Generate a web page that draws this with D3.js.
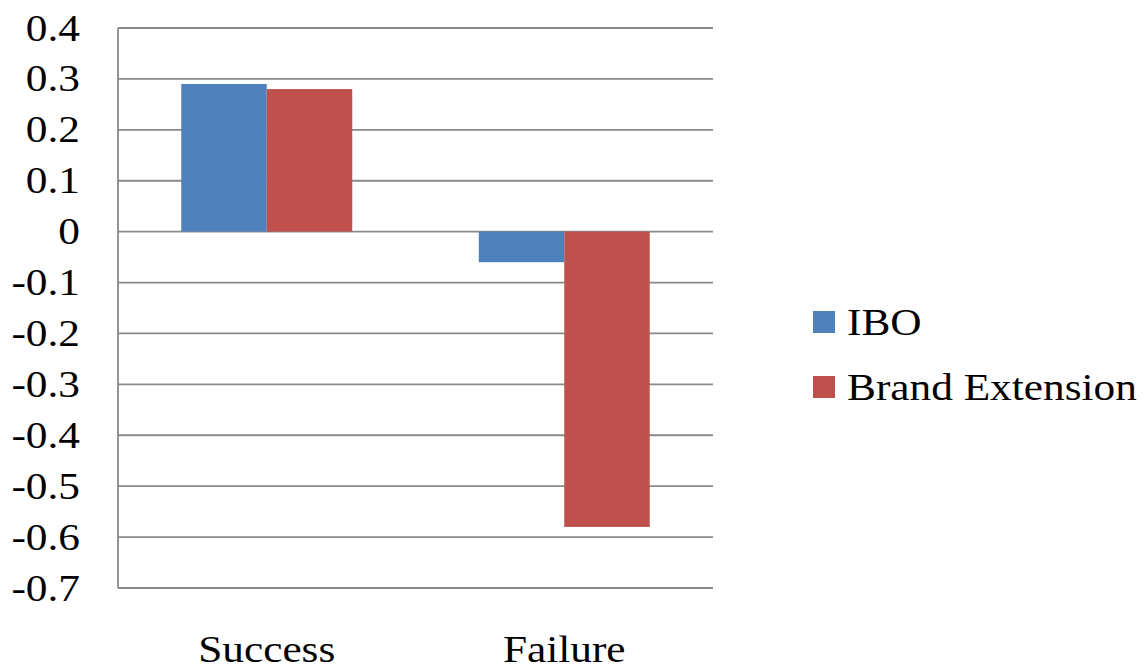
<!DOCTYPE html>
<html>
<head>
<meta charset="utf-8">
<script src="https://cdn.jsdelivr.net/npm/d3@7"></script>
<style>
  html, body { margin: 0; padding: 0; background: #ffffff; }
  svg { display: block; }
  text { font-family: "Liberation Serif", "Times New Roman", serif; fill: #000; }
</style>
</head>
<body>
<svg id="chart" width="1146" height="669"></svg>
<script>
// Chart data
const categories = ["Success", "Failure"];
const seriesNames = ["IBO", "Brand Extension"];
const iboValues = [0.29, -0.06];
const brandExtensionValues = [0.28, -0.58];
const tickValues = [0.4, 0.3, 0.2, 0.1, 0, -0.1, -0.2, -0.3, -0.4, -0.5, -0.6, -0.7];
const seriesColors = ["#4F81BD", "#C0504D"];

const rows = categories.map((c, i) => ({
  category: c,
  values: [iboValues[i], brandExtensionValues[i]]
}));

const svg = d3.select("#chart");
const plot = { left: 118, right: 713, top: 28, bottom: 588 };
const fontSize = 38;
const stretch = 1.14;
const gridColor = "#8a8a8a";

const y = d3.scaleLinear().domain([-0.7, 0.4]).range([plot.bottom, plot.top]);
const x0 = d3.scaleBand().domain(categories).range([plot.left, plot.right]).paddingInner(0).paddingOuter(0);
const x1 = d3.scaleBand().domain(seriesNames).range([0, x0.bandwidth()]).paddingInner(0).paddingOuter(0.74);

// Horizontal gridlines
svg.append("g")
  .selectAll("line")
  .data(tickValues)
  .join("line")
  .attr("x1", plot.left)
  .attr("x2", plot.right)
  .attr("y1", d => y(d))
  .attr("y2", d => y(d))
  .attr("stroke", gridColor)
  .attr("stroke-width", 1.8);

// Vertical axis line
svg.append("line")
  .attr("x1", plot.left).attr("x2", plot.left)
  .attr("y1", plot.top).attr("y2", plot.bottom)
  .attr("stroke", gridColor).attr("stroke-width", 1.8);

// Bars
const groups = svg.append("g")
  .selectAll("g")
  .data(rows)
  .join("g")
  .attr("transform", d => `translate(${x0(d.category)},0)`);

groups.selectAll("rect")
  .data(d => d.values.map((v, i) => ({ name: seriesNames[i], value: v, color: seriesColors[i] })))
  .join("rect")
  .attr("x", d => x1(d.name))
  .attr("width", x1.bandwidth())
  .attr("y", d => y(Math.max(0, d.value)))
  .attr("height", d => Math.abs(y(d.value) - y(0)))
  .attr("fill", d => d.color);

// Y tick labels (plain hyphen for negatives)
const fmt = d => d === 0 ? "0" : d3.format(".1f")(d).replace("\u2212", "-");
svg.append("g")
  .selectAll("text")
  .data(tickValues)
  .join("text")
  .attr("transform", d => `translate(80,${y(d)}) scale(${stretch},1)`)
  .attr("dy", "0.33em")
  .attr("text-anchor", "end")
  .style("font-size", fontSize + "px")
  .text(fmt);

// Category labels
svg.append("g")
  .selectAll("text")
  .data(categories)
  .join("text")
  .attr("transform", d => `translate(${x0(d) + x0.bandwidth() / 2},662) scale(${stretch},1)`)
  .attr("text-anchor", "middle")
  .style("font-size", fontSize + "px")
  .text(d => d);

// Legend
const legend = svg.append("g")
  .selectAll("g")
  .data(seriesNames)
  .join("g")
  .attr("transform", (d, i) => `translate(813,${322 + i * 65})`);

legend.append("rect")
  .attr("x", 0).attr("y", -11)
  .attr("width", 22).attr("height", 22)
  .attr("fill", (d, i) => seriesColors[i]);

legend.append("text")
  .attr("transform", `translate(34,13) scale(${stretch},1)`)
  .style("font-size", fontSize + "px")
  .text(d => d);
</script>
</body>
</html>
